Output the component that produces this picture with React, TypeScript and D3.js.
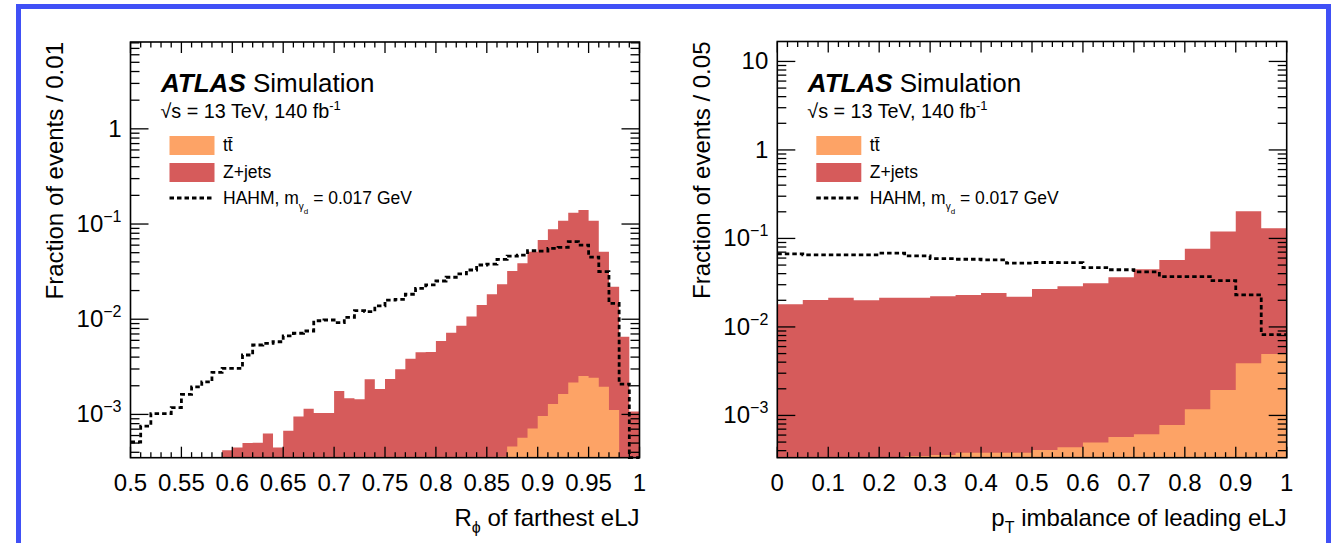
import React from 'react';
import * as d3 from 'd3';

const W = 1337;
const H = 543;

// R_phi of farthest eLJ: 50 bins of 0.01 between 0.5 and 1
const rphiRange = [0.5, 1];
const rphiTickLabels = ['0.5', '0.55', '0.6', '0.65', '0.7', '0.75', '0.8', '0.85', '0.9', '0.95', '1'];
const rphiTtbar = [
  0, 0, 0, 0, 0, 0, 0, 0, 0, 0,
  0, 0, 0, 0, 0, 0, 0, 0, 0, 0,
  0, 0, 0, 0, 0, 0, 0, 0, 0, 0,
  0, 0, 0, 0, 0, 0, 3.6e-4, 4.6e-4, 5.7e-4, 7.1e-4,
  9.6e-4, 1.29e-3, 1.64e-3, 2.17e-3, 2.53e-3, 2.43e-3, 1.95e-3, 1.11e-3, 0, 0,
];
const rphiZjets = [
  0, 0, 0, 0, 0, 0, 0, 0, 0, 4.2e-4,
  4.5e-4, 5.0e-4, 5.05e-4, 6.3e-4, 4.5e-4, 6.75e-4, 9.5e-4, 1.15e-3, 1.035e-3, 1.035e-3,
  1.76e-3, 1.48e-3, 1.44e-3, 2.34e-3, 1.85e-3, 2.36e-3, 2.98e-3, 3.85e-3, 4.49e-3, 4.52e-3,
  5.9e-3, 7.2e-3, 8.55e-3, 1.067e-2, 1.41e-2, 1.83e-2, 2.29e-2, 3.16e-2, 3.81e-2, 5.05e-2,
  6.69e-2, 8.67e-2, 0.1064, 0.1293, 0.138, 0.1056, 4.93e-2, 2.08e-2, 6.55e-3, 1.07e-3,
];
const rphiHahm = [
  5.13e-4, 7.55e-4, 1.02e-3, 1.02e-3, 1.18e-3, 1.62e-3, 1.95e-3, 2.2e-3, 2.77e-3, 3.05e-3,
  3.05e-3, 4.21e-3, 5.36e-3, 5.58e-3, 5.8e-3, 6.67e-3, 7.12e-3, 7.52e-3, 9.64e-3, 9.81e-3,
  9.19e-3, 1.047e-2, 1.23e-2, 1.2e-2, 1.38e-2, 1.59e-2, 1.62e-2, 1.83e-2, 2.11e-2, 2.29e-2,
  2.52e-2, 2.76e-2, 2.99e-2, 3.29e-2, 3.71e-2, 3.8e-2, 4.26e-2, 4.61e-2, 4.72e-2, 5.24e-2,
  5.2e-2, 5.56e-2, 5.69e-2, 6.52e-2, 6.01e-2, 4.5e-2, 3.16e-2, 1.47e-2, 2.08e-3, 0,
];

// pT imbalance of leading eLJ: 20 bins of 0.05 between 0 and 1
const ptRange = [0, 1];
const ptTickLabels = ['0', '0.1', '0.2', '0.3', '0.4', '0.5', '0.6', '0.7', '0.8', '0.9', '1'];
const ptTtbar = [
  2.6e-4, 2.8e-4, 3.0e-4, 3.1e-4, 3.3e-4, 3.49e-4, 3.58e-4, 3.8e-4, 3.8e-4, 3.8e-4,
  4.07e-4, 4.37e-4, 4.93e-4, 5.71e-4, 6.13e-4, 7.82e-4, 1.175e-3, 1.94e-3, 3.89e-3, 4.95e-3,
];
const ptZjets = [
  1.774e-2, 1.99e-2, 2.11e-2, 1.97e-2, 2.11e-2, 2.105e-2, 2.18e-2, 2.26e-2, 2.38e-2, 2.16e-2,
  2.65e-2, 2.84e-2, 3.07e-2, 3.59e-2, 4.43e-2, 5.64e-2, 7.55e-2, 0.1175, 0.199, 0.1253,
];
const ptHahm = [
  6.68e-2, 6.51e-2, 6.51e-2, 6.51e-2, 6.81e-2, 6.34e-2, 5.91e-2, 5.82e-2, 5.72e-2, 5.25e-2,
  5.35e-2, 5.33e-2, 4.67e-2, 4.43e-2, 4.18e-2, 3.7e-2, 3.7e-2, 3.33e-2, 2.3e-2, 8.18e-3,
];

const ORANGE = '#fda366';
const RED = '#d65b5b';
const FONT = '"Liberation Sans", Arial, Helvetica, sans-serif';

type PanelProps = {
  left: number;
  right: number;
  top: number;
  bottom: number;
  xRange: number[];
  yDomain: number[];
  majorStep: number;
  minorStep: number;
  tickLabels: string[];
  zjets: number[];
  ttbar: number[];
  hahm: number[];
  yTitle: string;
  yTitleX: number;
  xTitle: React.ReactNode;
};

function Panel(p: PanelProps) {
  const x = d3.scaleLinear().domain(p.xRange).range([p.left, p.right]);
  const y = d3.scaleLog().domain(p.yDomain).range([p.bottom, p.top]).clamp(true);
  const n = p.zjets.length;
  const bw = (p.xRange[1] - p.xRange[0]) / n;
  const yv = (v: number) => y(Math.max(v, p.yDomain[0]));

  const steps = (vals: number[]) => {
    const pts = vals.map((v, i) => [p.xRange[0] + i * bw, v] as [number, number]);
    pts.push([p.xRange[1], vals[n - 1]]);
    return pts;
  };
  const area = d3.area<[number, number]>()
    .x(d => x(d[0]))
    .y0(p.bottom)
    .y1(d => yv(d[1]))
    .curve(d3.curveStepAfter);
  const line = d3.line<[number, number]>()
    .x(d => x(d[0]))
    .y(d => yv(d[1]))
    .curve(d3.curveStepAfter);

  const totals = p.zjets.map((v, i) => v + p.ttbar[i]);

  // ticks
  const nMinor = Math.round((p.xRange[1] - p.xRange[0]) / p.minorStep);
  const perMajor = Math.round(p.majorStep / p.minorStep);
  const xTicks = d3.range(nMinor + 1).map(i => ({
    v: p.xRange[0] + i * p.minorStep,
    major: i % perMajor === 0,
  }));
  const yTicks: { v: number; major: boolean }[] = [];
  const k0 = Math.floor(Math.log10(p.yDomain[0]));
  const k1 = Math.ceil(Math.log10(p.yDomain[1]));
  for (let k = k0; k <= k1; k++) {
    for (let m = 1; m <= 9; m++) {
      const v = m * Math.pow(10, k);
      if (v >= p.yDomain[0] && v <= p.yDomain[1]) yTicks.push({ v, major: m === 1 });
    }
  }
  const decades = yTicks.filter(t => t.major);

  const hahmPath = line(steps(p.hahm)) || '';

  return (
    <g fontFamily={FONT}>
      <path d={area(steps(totals)) || ''} fill={RED} />
      <path d={area(steps(p.ttbar)) || ''} fill={ORANGE} />
      <path d={hahmPath} fill="none" stroke="#000" strokeWidth={2.8} strokeDasharray="4.5,3" />

      <rect x={p.left} y={p.top} width={p.right - p.left} height={p.bottom - p.top}
        fill="none" stroke="#000" strokeWidth={1.6} />
      {xTicks.map((t, i) => {
        const len = t.major ? 11 : 5.5;
        const xx = x(t.v);
        return (
          <g key={'xt' + i} stroke="#000" strokeWidth={1.3}>
            <line x1={xx} x2={xx} y1={p.bottom} y2={p.bottom - len} />
            <line x1={xx} x2={xx} y1={p.top} y2={p.top + len} />
          </g>
        );
      })}
      {yTicks.map((t, i) => {
        const len = t.major ? 18 : 9;
        const yy = y(t.v);
        return (
          <g key={'yt' + i} stroke="#000" strokeWidth={1.3}>
            <line x1={p.left} x2={p.left + len} y1={yy} y2={yy} />
            <line x1={p.right} x2={p.right - len} y1={yy} y2={yy} />
          </g>
        );
      })}
      {p.tickLabels.map(s => (
        <text key={'xl' + s} x={x(parseFloat(s))} y={491} fontSize={24} textAnchor="middle">{s}</text>
      ))}
      {decades.map(t => {
        const e = Math.round(Math.log10(t.v));
        return (
          <text key={'yl' + e} x={p.left - 9} y={y(t.v) + 8} fontSize={24} textAnchor="end">
            {e === 0 ? '1' : e === 1 ? '10' : (
              <>
                <tspan>10</tspan>
                <tspan fontSize={16} dy={-10}>{'\u2212' + -e}</tspan>
              </>
            )}
          </text>
        );
      })}
      <text transform={`translate(${p.yTitleX},${p.top}) rotate(-90)`} fontSize={24} textAnchor="end">
        {p.yTitle}
      </text>
      <text x={p.right} y={526} fontSize={24} textAnchor="end">{p.xTitle}</text>

      <text x={p.left + 30.5} y={91.7} fontSize={26}>
        <tspan fontWeight="bold" fontStyle="italic">ATLAS</tspan>
        <tspan> Simulation</tspan>
      </text>
      <text x={p.left + 30} y={118.3} fontSize={19.8}>
        <tspan>{'\u221As = 13 TeV, 140 fb'}</tspan>
        <tspan fontSize={13} dy={-8}>{'-1'}</tspan>
      </text>

      <rect x={p.left + 39} y={136} width={45} height={19} fill={ORANGE} />
      <text x={p.left + 92.5} y={151} fontSize={17.5}>{'tt\u0304'}</text>
      <rect x={p.left + 39} y={163} width={45} height={19} fill={RED} />
      <text x={p.left + 92.5} y={178} fontSize={17.5}>Z+jets</text>
      <line x1={p.left + 39} x2={p.left + 84} y1={198} y2={198} stroke="#000" strokeWidth={2.8} strokeDasharray="4.5,3" />
      <text x={p.left + 92.5} y={203.5} fontSize={17.5}>
        <tspan>HAHM, m</tspan>
        <tspan fontSize={10} dy={6}>{'\u03B3'}</tspan>
        <tspan fontSize={8} dy={4}>d</tspan>
        <tspan fontSize={17.5} dy={-10}>{' = 0.017 GeV'}</tspan>
      </text>
    </g>
  );
}

export default function App() {
  return (
    <svg width={W} height={H} style={{ position: 'absolute', left: 0, top: 0, background: '#fff' }}>
      <rect x={0} y={0} width={W} height={H} fill="#fff" />
      <rect x={18.5} y={6.5} width={1310} height={H + 20} fill="none" stroke="#4050f6" strokeWidth={5} />
      <Panel
        left={130.5} right={639.5} top={42} bottom={457.7}
        xRange={rphiRange} yDomain={[3.51e-4, 8.17]}
        majorStep={0.05} minorStep={0.01}
        tickLabels={rphiTickLabels}
        zjets={rphiZjets} ttbar={rphiTtbar} hahm={rphiHahm}
        yTitle="Fraction of events / 0.01" yTitleX={63}
        xTitle={<><tspan>R</tspan><tspan fontSize={16} dy={7}>{'\u03D5'}</tspan><tspan dy={-7}>{' of farthest eLJ'}</tspan></>}
      />
      <Panel
        left={777.3} right={1286.7} top={41.5} bottom={457.7}
        xRange={ptRange} yDomain={[3.33e-4, 16.8]}
        majorStep={0.1} minorStep={0.02}
        tickLabels={ptTickLabels}
        zjets={ptZjets} ttbar={ptTtbar} hahm={ptHahm}
        yTitle="Fraction of events / 0.05" yTitleX={710}
        xTitle={<><tspan>p</tspan><tspan fontSize={16} dy={7}>T</tspan><tspan dy={-7}>{' imbalance of leading eLJ'}</tspan></>}
      />
    </svg>
  );
}
